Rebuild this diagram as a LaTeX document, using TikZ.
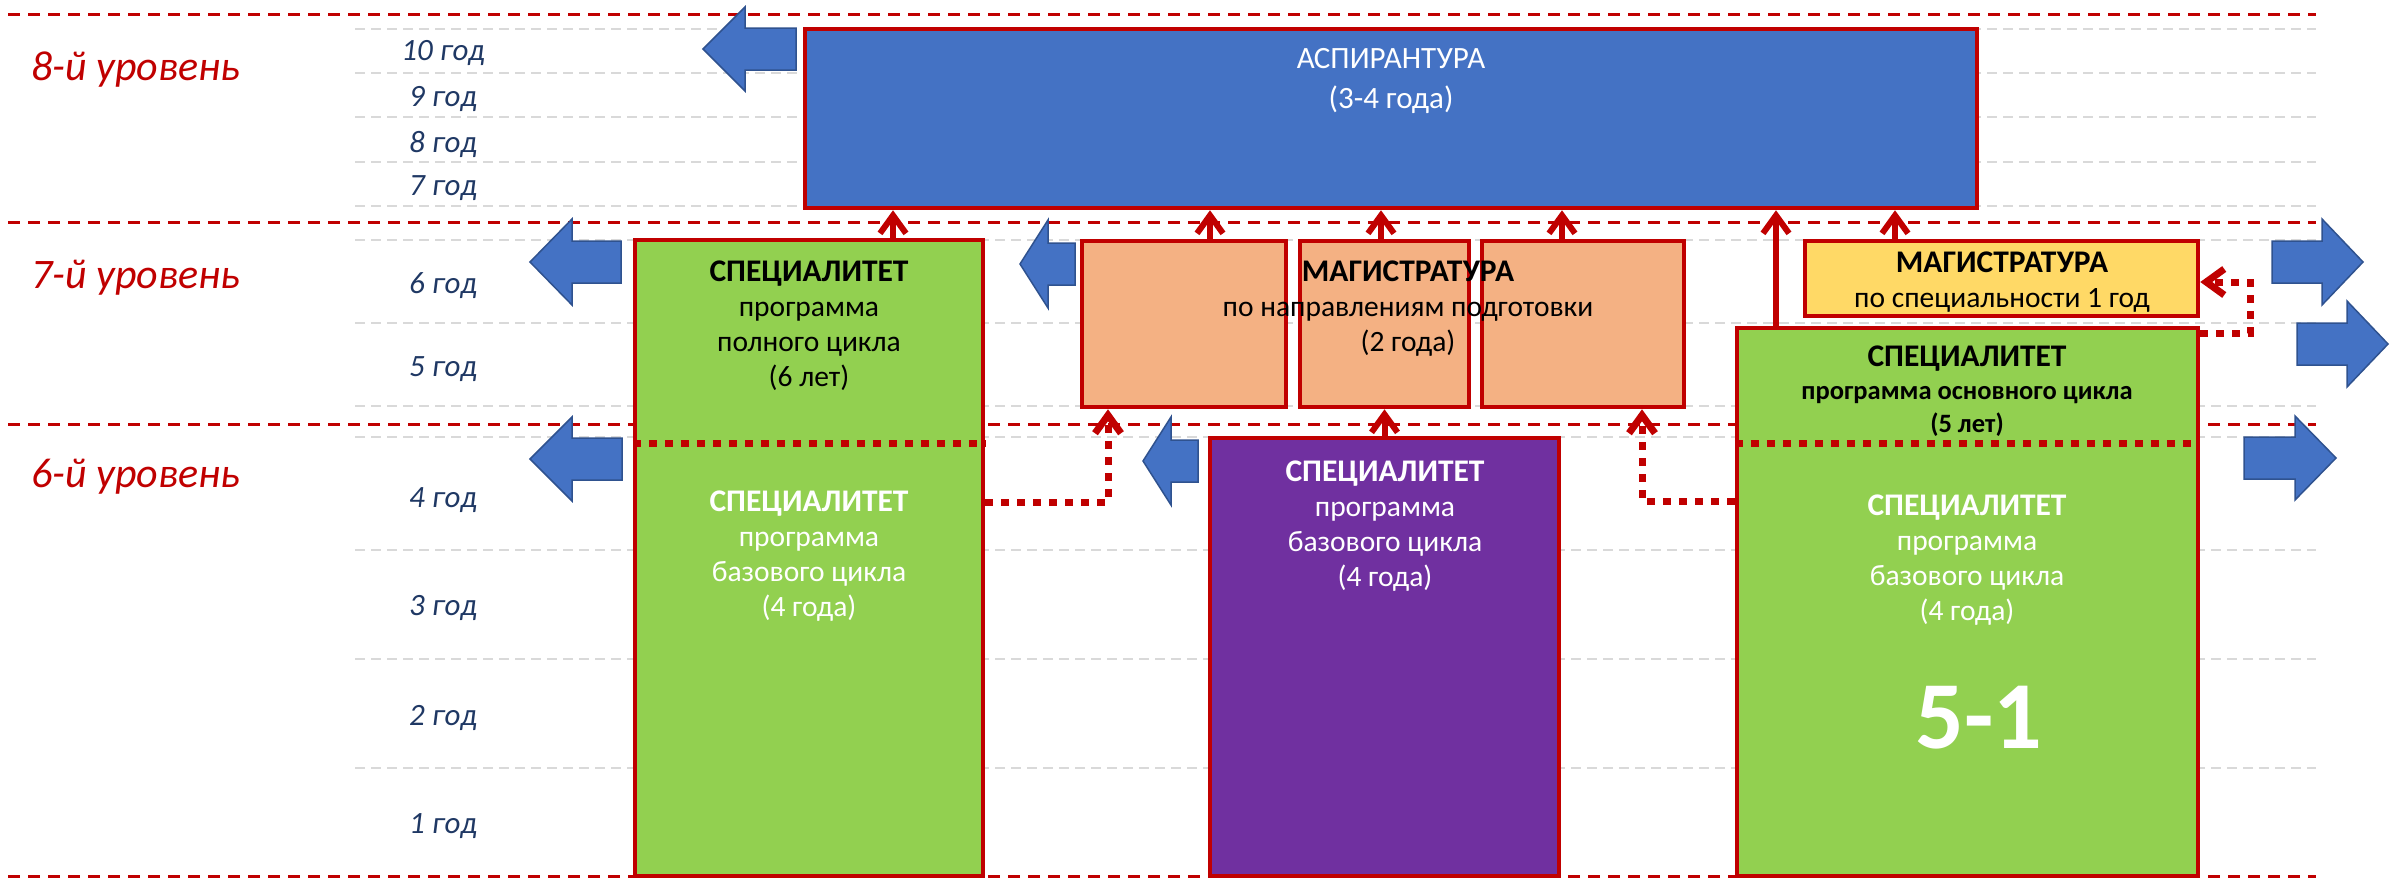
\documentclass[tikz,border=0pt]{standalone}
\usepackage{fontspec}
\setmainfont{Carlito}
\usepackage{xcolor}
\usepackage{tikz}
\usetikzlibrary{arrows.meta,fit}

\definecolor{lvlred}{HTML}{C00000}
\definecolor{aspblue}{HTML}{4472C4}
\definecolor{arredge}{HTML}{2F528F}
\definecolor{specgreen}{HTML}{92D050}
\definecolor{bakpurple}{HTML}{7030A0}
\definecolor{magorange}{HTML}{F4B183}
\definecolor{magyellow}{HTML}{FFD966}
\definecolor{yearnavy}{HTML}{1F3864}
\definecolor{gridgray}{HTML}{D9D9D9}

\newcommand{\progtitle}[1]{{\fontsize{15.75}{17.5}\selectfont\bfseries #1}}

\begin{document}
\begin{tikzpicture}[x=0.5pt,y=0.5pt,yscale=-1,xscale=1,
  box/.style={draw=lvlred, line width=2.25pt, inner sep=0pt},
  txt/.style={align=center, inner sep=0pt, font=\fontsize{14.75}{17.5}\selectfont},
  yearlbl/.style={anchor=base, text=yearnavy, font=\itshape\fontsize{15.5}{18}\selectfont},
  lvllbl/.style={anchor=base west, text=lvlred, font=\itshape\fontsize{21}{24}\selectfont},
  bluearr/.style={fill=aspblue, draw=arredge, line width=0.75pt},
  uparr/.style={draw=lvlred, line width=3pt, -{Straight Barb[length=9pt,width=13pt]}},
  dotline/.style={draw=lvlred, line width=3.5pt, dash pattern=on 4pt off 4pt},
  dotarr/.style={dotline, -{Straight Barb[length=9pt,width=13pt]}},
  lvlline/.style={draw=lvlred, line width=1.5pt, dash pattern=on 6pt off 4pt},
  yearline/.style={draw=gridgray, line width=1.25pt, dash pattern=on 5pt off 3pt}]
\useasboundingbox (0,0) rectangle (2392,879);

%Grid: year lines
\foreach \y in {29,73,117,162,206,240,323,406,437,550,659,768}
  \draw[yearline] (355,\y) -- (2316,\y);
%Grid: level lines
\foreach \y in {14,222,424,876}
  \draw[lvlline] (8,\y) -- (2316,\y);

%Shape: Rectangle
\node[box, fill=aspblue, fit={(805,29) (1977,208)}] (asp) {};
%Shape: Rectangle
\node[box, fill=specgreen, fit={(635,240) (983,876)}] (spec6) {};
%Shape: Rectangle
\node[box, fill=magorange, fit={(1082,241) (1286,407)}] (mag1) {};
%Shape: Rectangle
\node[box, fill=magorange, fit={(1300,241) (1469,407)}] (mag2) {};
%Shape: Rectangle
\node[box, fill=magorange, fit={(1482,241) (1684,407)}] (mag3) {};
%Shape: Rectangle
\node[box, fill=bakpurple, fit={(1210,438) (1559,876)}] (purp) {};
%Shape: Rectangle
\node[box, fill=magyellow, fit={(1805,241) (2198,316)}] (magy) {};
%Shape: Rectangle
\node[box, fill=specgreen, fit={(1737,328) (2198,876)}] (specR) {};

%Dotted split lines
\coordinate (s1) at (0,443);
\draw[dotline] (spec6.west |- s1) -- (spec6.east |- s1);
\draw[dotline] (specR.west |- s1) -- (specR.east |- s1);

%Shape: Left Arrow
\draw[bluearr] (703,49) -- (745,7) -- (745,28) -- (796,28) -- (796,70) -- (745,70) -- (745,91) -- cycle;
%Shape: Left Arrow
\draw[bluearr] (530,262) -- (572,219) -- (572,241) -- (621,241) -- (621,283) -- (572,283) -- (572,305) -- cycle;
%Shape: Left Arrow
\draw[bluearr] (530,459) -- (572,417) -- (572,438) -- (622,438) -- (622,480) -- (572,480) -- (572,501) -- cycle;
%Shape: Left Arrow
\draw[bluearr] (1020,264) -- (1048,220) -- (1048,243) -- (1075,243) -- (1075,285) -- (1048,285) -- (1048,308) -- cycle;
%Shape: Left Arrow
\draw[bluearr] (1143,461) -- (1171,417) -- (1171,440) -- (1198,440) -- (1198,482) -- (1171,482) -- (1171,505) -- cycle;
%Shape: Right Arrow
\draw[bluearr] (2363,262) -- (2322,219) -- (2322,241) -- (2272,241) -- (2272,283) -- (2322,283) -- (2322,305) -- cycle;
%Shape: Right Arrow
\draw[bluearr] (2388,344) -- (2347,301) -- (2347,323) -- (2297,323) -- (2297,365) -- (2347,365) -- (2347,387) -- cycle;
%Shape: Right Arrow
\draw[bluearr] (2336,458) -- (2295,416) -- (2295,437) -- (2244,437) -- (2244,479) -- (2295,479) -- (2295,500) -- cycle;

%Straight Lines: up to АСПИРАНТУРА
\coordinate (u1) at (893,0);
\coordinate (u2) at (1210,0);
\coordinate (u3) at (1381,0);
\coordinate (u4) at (1562,0);
\coordinate (u5) at (1776,0);
\coordinate (u6) at (1895,0);
\draw[uparr] (spec6.north -| u1) -- (asp.south -| u1);
\draw[uparr] (mag1.north -| u2) -- (asp.south -| u2);
\draw[uparr] (mag2.north -| u3) -- (asp.south -| u3);
\draw[uparr] (mag3.north -| u4) -- (asp.south -| u4);
\draw[uparr] (specR.north -| u5) -- (asp.south -| u5);
\draw[uparr] (magy.north -| u6) -- (asp.south -| u6);
\draw[uparr] (purp.north) -- (mag2.south);

%Dotted Lines
\coordinate (d1) at (1108,502);
\draw[dotarr] (spec6.east |- d1) -- (d1) -- (mag1.south -| d1);
\coordinate (d2) at (1642,501);
\draw[dotarr] (specR.west |- d2) -- (d2) -- (mag3.south -| d2);
\coordinate (d3) at (2250,333);
\coordinate (d4) at (2250,282);
\draw[dotarr] (specR.east |- d3) -- (d3) -- (d4) -- (magy.east |- d4);

% Text Node: levels
\node[lvllbl] (lvl8) at (24,80) {8-й уровень};
\node[lvllbl] (lvl7) at (24,288) {7-й уровень};
\node[lvllbl] (lvl6) at (24,487) {6-й уровень};
% Text Node: years
\foreach \t/\y in {10/60,9/106,8/152,7/195,6/293,5/376,4/507,3/615,2/725,1/833}
  \node[yearlbl] (yr\t) at (443,\y) {\t\ год};

% Text Node
\node[txt, text=white, font=\fontsize{15.5}{20}\selectfont] (asptxt) at (1391,81) {АСПИРАНТУРА\\(3-4 года)};
% Text Node
\node[txt] (spec6top) at (809,326) {\progtitle{СПЕЦИАЛИТЕТ}\\программа\\полного цикла\\(6 лет)};
% Text Node
\node[txt, text=white] (spec6bot) at (809,556) {\progtitle{СПЕЦИАЛИТЕТ}\\программа\\базового цикла\\(4 года)};
% Text Node
\node[txt] (magtxt) at (1408,309) {\progtitle{МАГИСТРАТУРА}\\по направлениям подготовки\\(2 года)};
% Text Node
\node[txt, text=white] (purptxt) at (1385,526) {\progtitle{СПЕЦИАЛИТЕТ}\\программа\\базового цикла\\(4 года)};
% Text Node
\node[txt] (magytxt) at (2002,282) {\progtitle{МАГИСТРАТУРА}\\по специальности 1 год};
% Text Node
\node[txt, font=\bfseries\fontsize{13.25}{16.5}\selectfont] (specRtop) at (1967,391) {\progtitle{СПЕЦИАЛИТЕТ}\\программа основного цикла\\(5 лет)};
% Text Node
\node[txt, text=white] (specRbot) at (1967,560) {\progtitle{СПЕЦИАЛИТЕТ}\\программа\\базового цикла\\(4 года)};
% Text Node
\node[txt, text=white, font=\bfseries\fontsize{48}{52}\selectfont] (fiveone) at (1979,718) {5-1};
\end{tikzpicture}
\end{document}
